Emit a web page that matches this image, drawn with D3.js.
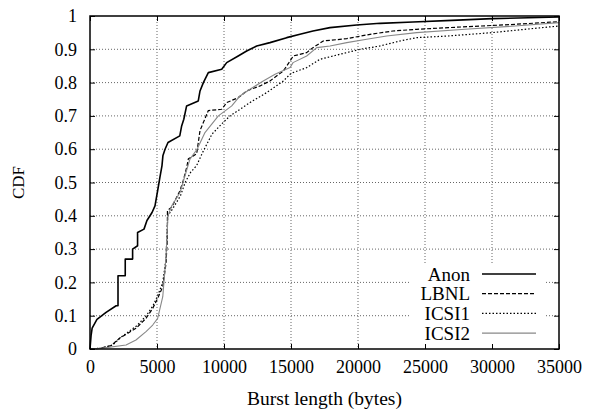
<!DOCTYPE html>
<html>
<head>
<meta charset="utf-8">
<script src="https://cdn.jsdelivr.net/npm/d3@7"></script>
<style>
  body { margin: 0; background: #fff; }
  svg text { font-family: "Liberation Serif", "DejaVu Serif", serif; fill: #000; }
</style>
</head>
<body>
<svg id="cdf_viz"></svg>
<script>
// CDF points: [burst length in bytes, CDF]
const anon = [
  [0, 0], [80, 0.04], [160, 0.063], [520, 0.089], [1200, 0.11], [1950, 0.13],
  [2090, 0.13], [2090, 0.22], [2630, 0.22], [2630, 0.27], [3180, 0.27], [3180, 0.30],
  [3550, 0.31], [3550, 0.35], [4030, 0.36], [4250, 0.386], [4630, 0.41], [4850, 0.43],
  [5050, 0.476], [5220, 0.516], [5370, 0.55], [5440, 0.58], [5600, 0.60], [5820, 0.62],
  [6700, 0.64], [6840, 0.67], [7000, 0.69], [7210, 0.73], [8080, 0.745], [8210, 0.775],
  [8460, 0.80], [8830, 0.83], [9830, 0.84], [10200, 0.86], [11060, 0.88], [11690, 0.895],
  [12440, 0.91], [13430, 0.92], [14680, 0.935], [15670, 0.945], [16640, 0.955],
  [17910, 0.965], [19900, 0.973], [21650, 0.978], [24100, 0.982], [27000, 0.987],
  [30000, 0.992], [35000, 0.997]
];

const lbnl = [
  [0, 0], [700, 0.002], [1570, 0.01], [2190, 0.032], [3430, 0.062], [4180, 0.092],
  [4680, 0.122], [5050, 0.152], [5430, 0.187], [5670, 0.257], [5770, 0.33], [5780, 0.416],
  [6100, 0.426], [6720, 0.476], [6960, 0.506], [7220, 0.546], [7340, 0.571], [7960, 0.586],
  [8210, 0.656], [8830, 0.716], [9830, 0.72], [10200, 0.74], [11070, 0.755], [11690, 0.775],
  [12690, 0.79], [13430, 0.805], [14430, 0.835], [14930, 0.865], [15170, 0.88],
  [16170, 0.89], [16640, 0.905], [17410, 0.925], [19160, 0.932], [20900, 0.945],
  [22610, 0.955], [24380, 0.96], [26720, 0.965], [29230, 0.97], [31720, 0.975], [35000, 0.983]
];

const icsi1 = [
  [0, 0], [900, 0.003], [1700, 0.012], [2300, 0.035], [3500, 0.07], [4200, 0.10],
  [4700, 0.13], [5050, 0.16], [5430, 0.20], [5670, 0.27], [5800, 0.40], [6150, 0.42],
  [6750, 0.46], [7100, 0.50], [7500, 0.53], [7960, 0.551], [8400, 0.59], [9100, 0.645],
  [9830, 0.676], [10450, 0.70], [10830, 0.71], [11940, 0.74], [13180, 0.77], [14430, 0.805],
  [14930, 0.825], [15150, 0.83], [16170, 0.845], [17160, 0.87], [18650, 0.885],
  [20150, 0.90], [21640, 0.91], [23130, 0.925], [24380, 0.935], [26720, 0.94],
  [29980, 0.95], [32460, 0.96], [35000, 0.97]
];

const icsi2 = [
  [0, 0], [800, 0.002], [2690, 0.012], [3430, 0.027], [4180, 0.052], [4680, 0.072],
  [5050, 0.092], [5430, 0.157], [5670, 0.276], [5820, 0.40], [6100, 0.43], [6720, 0.47],
  [7160, 0.53], [7460, 0.57], [7990, 0.60], [8580, 0.65], [9580, 0.70], [10580, 0.73],
  [11190, 0.76], [11940, 0.78], [12930, 0.805], [13810, 0.825], [14930, 0.845],
  [15150, 0.86], [16170, 0.88], [16920, 0.905], [17910, 0.91], [19160, 0.92],
  [20650, 0.93], [22140, 0.94], [24380, 0.95], [27990, 0.96], [31720, 0.97], [35000, 0.98]
];

const seriesNames = ["Anon", "LBNL", "ICSI1", "ICSI2"];
const xTicks = [0, 5000, 10000, 15000, 20000, 25000, 30000, 35000];
const yTicks = [0, 0.1, 0.2, 0.3, 0.4, 0.5, 0.6, 0.7, 0.8, 0.9, 1];

/*
 * Dimensions of the svg and the plot frame
 */
const dimensions = {
  width: 589,
  height: 409,
  marginLeft: 90,
  marginRight: 30,
  marginTop: 16,
  marginBottom: 60
};

function chart(id) {
  const seriesData = [anon, lbnl, icsi1, icsi2];
  const styles = [
    { stroke: "#000", width: 1.6, dash: null },
    { stroke: "#000", width: 1.2, dash: "4,2" },
    { stroke: "#000", width: 1.2, dash: "1.5,2" },
    { stroke: "#888", width: 1.1, dash: null }
  ];

  const left = dimensions.marginLeft;
  const right = dimensions.width - dimensions.marginRight;
  const top = dimensions.marginTop;
  const bottom = dimensions.height - dimensions.marginBottom;

  const svg = d3.select('#' + id)
      .attr("width", dimensions.width)
      .attr("height", dimensions.height);

  let x = d3.scaleLinear().domain([0, 35000]).range([left, right]);
  let y = d3.scaleLinear().domain([0, 1]).range([bottom, top]);

  // Dotted grid
  svg.append("g")
      .selectAll("line")
      .data(xTicks.slice(1, -1))
      .join("line")
      .attr("x1", d => x(d)).attr("x2", d => x(d))
      .attr("y1", top).attr("y2", bottom)
      .attr("stroke", "#666").attr("stroke-width", 1)
      .attr("stroke-dasharray", "1,2");

  svg.append("g")
      .selectAll("line")
      .data(yTicks.slice(1, -1))
      .join("line")
      .attr("x1", left).attr("x2", right)
      .attr("y1", d => y(d)).attr("y2", d => y(d))
      .attr("stroke", "#666").attr("stroke-width", 1)
      .attr("stroke-dasharray", "1,2");

  // Curves
  let line = d3.line()
      .x(d => x(d[0]))
      .y(d => y(d[1]));

  seriesData.forEach((data, i) => {
    svg.append("path")
        .datum(data)
        .attr("fill", "none")
        .attr("stroke", styles[i].stroke)
        .attr("stroke-width", styles[i].width)
        .attr("stroke-dasharray", styles[i].dash)
        .attr("stroke-linejoin", "round")
        .attr("d", line);
  });

  // Legend with white background (hides grid behind it)
  const legX = 470, legY = 274, legStep = 19.7;
  svg.append("rect")
      .attr("x", 410).attr("y", 264)
      .attr("width", 136).attr("height", bottom - 264)
      .attr("fill", "#fff");

  seriesNames.forEach((name, i) => {
    const ly = legY + i * legStep;
    svg.append("text")
        .attr("x", legX).attr("y", ly)
        .attr("dy", "0.35em")
        .attr("text-anchor", "end")
        .style("font-size", "19px")
        .text(name);
    svg.append("line")
        .attr("x1", 482).attr("x2", 536)
        .attr("y1", ly).attr("y2", ly)
        .attr("stroke", styles[i].stroke)
        .attr("stroke-width", styles[i].width)
        .attr("stroke-dasharray", styles[i].dash);
  });

  // Axes: ticks inward on all four sides
  const tickLen = 5;
  svg.append("g")
      .attr("transform", `translate(0, ${bottom})`)
      .call(d3.axisBottom(x).tickValues(xTicks).tickSize(-tickLen).tickPadding(11).tickFormat(d3.format("d")))
      .call(g => g.select(".domain").remove())
      .call(g => g.selectAll("text").style("font-size", "18px").attr("font-family", null));

  svg.append("g")
      .attr("transform", `translate(0, ${top})`)
      .call(d3.axisTop(x).tickValues(xTicks).tickSize(-tickLen).tickFormat(""))
      .call(g => g.select(".domain").remove());

  svg.append("g")
      .attr("transform", `translate(${left}, 0)`)
      .call(d3.axisLeft(y).tickValues(yTicks).tickSize(-tickLen).tickPadding(13).tickFormat(d3.format("")))
      .call(g => g.select(".domain").remove())
      .call(g => g.selectAll("text").style("font-size", "18px").attr("font-family", null));

  svg.append("g")
      .attr("transform", `translate(${right}, 0)`)
      .call(d3.axisRight(y).tickValues(yTicks).tickSize(-tickLen).tickFormat(""))
      .call(g => g.select(".domain").remove());

  // Frame
  svg.append("rect")
      .attr("x", left).attr("y", top)
      .attr("width", right - left).attr("height", bottom - top)
      .attr("fill", "none")
      .attr("stroke", "#000")
      .attr("stroke-width", 1.5);

  // Axis titles
  svg.append("text")
      .attr("x", (left + right) / 2)
      .attr("y", 405)
      .attr("text-anchor", "middle")
      .style("font-size", "19.5px")
      .text("Burst length (bytes)");

  svg.append("text")
      .attr("transform", `translate(24, ${(top + bottom) / 2}) rotate(-90)`)
      .attr("text-anchor", "middle")
      .style("font-size", "17px")
      .text("CDF");
}

chart("cdf_viz");
</script>
</body>
</html>
